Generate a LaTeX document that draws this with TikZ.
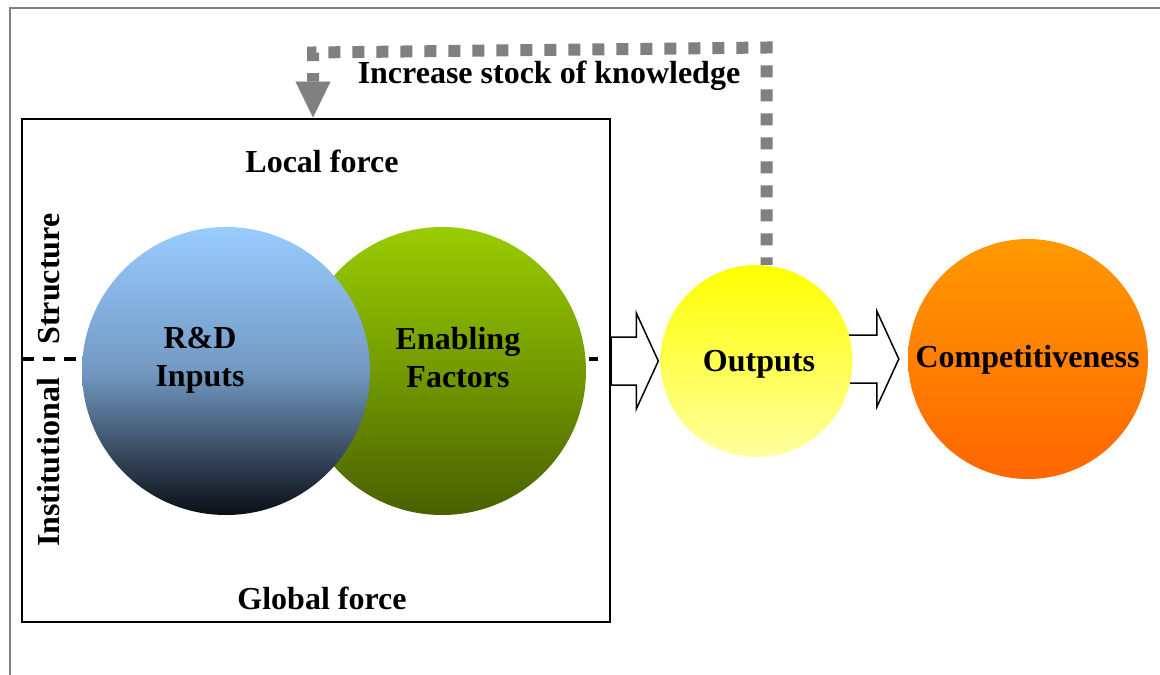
\documentclass[tikz,border=0pt]{standalone}
\usepackage{fontspec}
\setmainfont{Liberation Serif}
\usepackage{tikz}
\usetikzlibrary{positioning, calc, arrows.meta, backgrounds}

\definecolor{rdtop}{HTML}{99CCFF}
\definecolor{rdmid}{HTML}{7399C2}
\definecolor{rdbot}{HTML}{0A0E14}
\definecolor{eftop}{HTML}{99CC00}
\definecolor{efmid}{HTML}{739A00}
\definecolor{efbot}{HTML}{4A6000}
\definecolor{outtop}{HTML}{FFFF00}
\definecolor{outbot}{HTML}{FFFFA0}
\definecolor{comptop}{HTML}{FF9900}
\definecolor{compbot}{HTML}{FF6600}
\definecolor{fbgray}{HTML}{808080}

\tikzset{
  lbl/.style={font=\fontsize{32}{38}\selectfont\bfseries, align=center, inner sep=0pt},
  ball/.style={circle, inner sep=0pt, minimum size=#1},
  hollow/.style={draw=black, fill=white, line width=1.5pt},
  sepline/.style={line width=3.5pt, dash pattern=on 12pt off 9pt},
  feedback/.style={draw=fbgray, line width=12pt, dash pattern=on 12pt off 12pt, dash phase=4.5pt}
}

% hollow block arrow from #1 to the tip #2
\newcommand{\blockarrow}[2]{%
  \draw[hollow] let \p1=(#1), \p2=(#2) in
    (\x1,\y2+24pt) -- (\x2-22pt,\y2+24pt) -- (\x2-22pt,\y2+48pt) -- (\p2)
    -- (\x2-22pt,\y2-48pt) -- (\x2-22pt,\y2-24pt) -- (\x1,\y2-24pt) -- cycle;}

\begin{document}
\begin{tikzpicture}[x=1pt, y=-1pt]
\useasboundingbox (0,0) rectangle (1160,675);
% page border
\draw[fbgray, line width=2pt] (9.5,675) -- (9.5,7.5) -- (1160,7.5);
% structure / institutional divide
\draw[sepline] (22,359) -- (598,359);
% forces box
\node[draw, line width=2pt, minimum width=588pt, minimum height=503.5pt, inner sep=0pt] (frame) at (316,370.25) {};
% circles
\node[ball=288pt, top color=eftop, bottom color=efbot, middle color=efmid] (enabling) at (442,371) {};
\node[ball=288pt, top color=rdtop, bottom color=rdbot, middle color=rdmid] (rd) at (226,371) {};
\node[ball=192pt, top color=outtop, bottom color=outbot] (outputs) at (756.5,361) {};
\node[ball=240pt, top color=comptop, bottom color=compbot] (comp) at (1028,359) {};
% block arrows behind the circles
\begin{scope}[on background layer]
  \blockarrow{frame.east}{[xshift=-2pt]outputs.west}
  \blockarrow{outputs.center}{[xshift=-9pt]comp.west}
\end{scope}
% knowledge feedback loop
\coordinate (kn1) at (766.5,47.5);
\coordinate (kn2) at (313,52.5);
\draw[feedback, -{Triangle[length=36pt 0 0, width=35pt 0 0, line width=0.01pt]}]
  (outputs.north -| kn1) -- (kn1) -- (kn2) -- (frame.north -| kn2);
% labels
\node[lbl] (knowledge) at (549,76) {Increase stock of knowledge};
\node[lbl] (local) at (322,161) {Local force};
\node[lbl] (global) at (322,598.5) {Global force};
\node[lbl, rotate=90] (structure) at (49,279) {Structure};
\node[lbl, rotate=90] (institutional) at (49,462.5) {Institutional};
\node[lbl] (rdtext) at (200,360.5) {R\&D\\Inputs};
\node[lbl] (eftext) at (458,358) {Enabling\\Factors};
\node[lbl] (outtext) at (759,364) {Outputs};
\node[lbl] (comptext) at (1027.5,360) {Competitiveness};
\end{tikzpicture}
\end{document}
